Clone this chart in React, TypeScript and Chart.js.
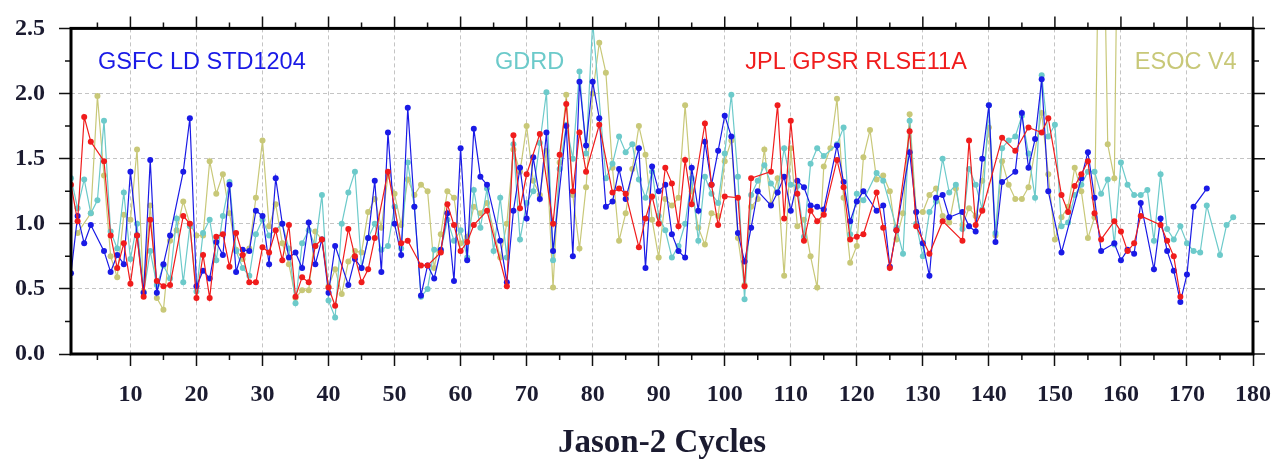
import React, { useEffect, useRef } from 'react';
import { Chart, registerables } from 'chart.js';

Chart.register(...registerables);

// Jason-2 cycle numbers (category axis)
const cycles: number[] = Array.from({ length: 177 }, (_, i) => i + 1);
const xTickValues = [10, 20, 30, 40, 50, 60, 70, 80, 90, 100, 110, 120, 130, 140, 150, 160, 170, 180];

// GSFC LD STD1204 (cycles 1..173)
const gsfc: (number | null)[] = [
  0.62, 1.06, 0.85, 0.99, null, 0.79, 0.63, 0.76, 0.69, 1.40,
  0.91, 0.47, 1.49, 0.47, 0.69, 0.91, null, 1.40, 1.81, 0.52,
  0.64, 0.58, 0.86, 0.76, 1.30, 0.63, 0.80, 0.79, 1.10, 1.06,
  0.69, 1.35, 1.00, 0.74, 0.78, 0.66, 1.01, 0.69, 0.88, 0.47,
  0.83, null, 0.53, 0.73, 0.66, 0.89, 1.33, 0.63, 1.70, 1.00,
  0.76, 1.89, 1.13, 0.45, 0.68, 0.58, 0.80, 1.08, 0.56, 1.58,
  0.72, 1.73, 1.36, 1.30, null, 0.87, 0.55, 1.10, 1.43, 1.04,
  1.51, 1.19, 1.70, 0.79, null, 1.75, 0.75, 2.09, 1.60, 2.09,
  1.81, 1.13, 1.17, 1.42, 1.19, null, 1.58, 0.66, 1.44, 1.25,
  1.30, 0.92, 0.79, 0.74, 1.43, 1.10, 1.63, 1.30, 1.56, 1.83,
  1.67, 0.93, 0.71, 0.97, 1.25, null, 1.14, 1.24, 1.36, 1.10,
  1.33, 1.28, 1.14, 1.13, 1.11, null, 1.60, 1.32, 1.02, 1.17,
  1.25, null, 1.10, 1.14, 0.67, 0.95, null, 1.55, 1.09, 0.85,
  0.60, 1.20, 1.22, 1.05, null, 1.09, 0.98, 0.94, 1.50, 1.91,
  0.86, 1.32, null, 1.40, 1.85, 1.43, 1.65, 2.11, 1.25, null,
  0.78, null, null, 1.35, 1.55, 1.20, 0.79, null, 0.85, 0.72,
  0.80, 0.77, 1.16, null, 0.65, 1.04, 0.79, 0.64, 0.40, 0.61,
  1.13, null, 1.27,
];

// GDRD (cycles 1..177)
const gdrd: (number | null)[] = [
  1.35, 1.12, 1.34, 1.08, 1.18, 1.79, 0.94, 0.81, 1.24, 0.73,
  1.00, 0.47, 0.79, 0.53, 0.68, 0.58, 1.04, 0.55, 0.98, 0.48,
  0.93, 1.03, 0.72, 1.06, 1.32, 0.79, 0.66, 0.60, 0.92, 1.03,
  0.91, null, 1.00, 0.81, 0.39, 0.85, 0.95, 0.83, 1.22, 0.41,
  0.28, 1.00, 1.24, 1.40, 0.66, 0.89, 1.00, 0.80, 0.83, 1.13,
  0.81, 1.47, 1.13, 0.44, 0.50, 0.80, 0.79, 1.03, 0.87, 0.95,
  0.74, 1.26, 0.97, 1.27, 0.79, 1.20, 0.74, 1.61, 0.88, 1.16,
  1.25, 1.62, 2.01, 0.72, 1.42, 1.76, 1.50, 2.17, 1.54, 2.55,
  null, 1.35, 1.46, 1.67, 1.55, 1.61, 1.34, 1.20, 1.40, 1.06,
  0.95, 0.74, 0.83, 1.00, 1.35, 0.87, 1.36, 1.23, 1.16, 1.54,
  1.99, 1.36, 0.42, 1.22, 1.33, 1.45, 1.31, 1.24, 1.58, 1.30,
  1.29, 0.90, 1.46, 1.58, 1.52, null, 1.61, 1.74, 0.92, 1.23,
  1.18, null, 1.39, 1.33, null, 0.97, 0.77, 1.79, 1.00, 0.75,
  1.09, 1.17, 1.50, 1.24, 1.30, 0.96, 1.42, 1.30, 1.11, 1.91,
  0.93, 1.58, 1.64, 1.67, 1.83, 1.54, 1.20, 2.14, 1.67, 1.76,
  0.98, 1.01, 1.22, 1.30, 1.40, 1.40, 1.23, 1.34, 0.84, 1.47,
  1.30, 1.22, 1.22, 1.26, 0.87, 1.38, 0.96, 0.88, 0.98, 0.85,
  0.79, 0.78, 1.14, null, 0.76, 0.99, 1.05,
];

// JPL GPSR RLSE11A (cycles 1..169)
const jpl: (number | null)[] = [
  1.30, 1.02, 1.82, 1.63, null, 1.48, 0.91, 0.66, 0.85, 0.54,
  0.91, 0.44, 1.03, 0.56, 0.52, 0.53, null, 1.06, 1.00, 0.43,
  0.76, 0.43, 0.90, 0.92, 0.67, 0.93, 0.76, 0.55, 0.55, 0.82,
  0.78, 0.95, 0.72, 0.99, 0.44, 0.59, 0.55, 0.83, 0.88, 0.51,
  0.37, null, 0.96, 0.75, 0.55, 0.65, 0.89, null, 1.40, null,
  0.85, 0.87, null, 0.68, 0.68, null, 0.78, 1.15, 0.99, 0.79,
  0.86, 0.99, null, 1.10, null, null, 0.52, 1.68, 1.12, 1.38,
  null, 1.69, null, 1.00, 1.53, 1.92, 1.25, 1.70, 1.40, null,
  1.76, null, 1.24, 1.27, 1.23, null, 0.82, 1.04, 1.21, 1.00,
  1.43, 1.31, 0.98, 1.49, 1.15, null, 1.77, 1.30, 0.99, 1.21,
  null, 1.20, 0.52, 1.35, null, null, 1.40, 1.91, 1.04, 1.79,
  1.23, 0.87, 1.10, 1.02, 1.07, null, 1.49, 1.28, 0.88, 0.90,
  0.92, null, 1.24, 0.97, 0.66, 0.95, null, 1.71, 0.98, null,
  0.77, null, 1.02, null, null, 0.87, 1.64, 0.99, 1.10, null,
  null, 1.66, null, 1.56, null, 1.74, null, 1.70, 1.81, null,
  1.22, 1.09, 1.29, 1.38, 1.48, 1.08, 0.88, null, 1.02, 0.94,
  0.79, 0.85, 1.06, null, null, 0.99, 0.87, 0.75, 0.44,
];

// ESOC V4 (cycles 1..160)
const esoc: (number | null)[] = [
  null, 0.93, null, 1.08, 1.98, 1.37, 0.75, 0.59, 1.07, 1.03,
  1.57, 0.48, 1.14, 0.43, 0.34, 0.87, 0.95, 1.17, 1.00, 0.91,
  0.91, 1.48, 1.23, 1.38, 1.08, 0.80, 0.73, 0.81, 1.20, 1.64,
  0.98, 1.15, 0.85, 0.69, 0.43, 0.49, 0.49, 0.94, 0.88, 0.52,
  0.65, 0.46, 0.71, 0.79, 0.78, 1.09, 1.19, 0.97, 1.37, 1.23,
  0.99, 1.34, 1.22, 1.30, 1.25, 0.66, 0.92, 1.25, 1.20, 0.85,
  0.90, 1.13, 1.08, 1.16, null, 0.74, 1.00, 1.57, 1.40, 1.75,
  1.33, 1.22, 1.56, 0.51, 1.47, 1.99, 1.22, 0.81, 1.28, 2.00,
  2.39, 2.16, 1.43, 0.87, 1.08, 1.42, 1.75, 1.53, 1.03, 0.74,
  1.19, 1.14, 1.20, 1.91, 1.25, 0.97, 0.84, 1.08, 1.06, 1.48,
  1.64, 0.89, 0.53, 1.13, 1.19, 1.57, 1.15, 1.35, 0.60, 1.58,
  0.98, 1.03, 0.75, 0.51, 1.44, 1.58, 1.96, 1.20, 0.70, 0.83,
  1.51, 1.72, 1.34, 1.37, 1.25, 0.88, 1.08, 1.84, 1.09, 1.09,
  1.22, 1.27, 1.06, 1.01, 1.27, 0.99, 1.12, 1.06, 1.33, 1.74,
  0.91, 1.48, 1.30, 1.19, 1.19, 1.28, null, 1.85, 1.38, 0.88,
  1.05, 1.13, 1.43, 1.25, 0.89, 1.05, 4.5, 1.61, 1.35, 5.5,
];

const BLUE = '#1a1ae6';
const RED = '#f01c1c';
const CYAN = '#6ccaca';
const OLIVE = '#c8c878';
const TEXT = '#1b1b30';

const seriesNames = ['JPL GPSR RLSE11A', 'GSFC LD STD1204', 'GDRD', 'ESOC V4'];

const toPoints = (arr: (number | null)[]) => arr.map((v, i) => ({ x: cycles[i], y: v }));

const framePlugin = {
  id: 'frameAndLabels',
  afterDraw(chart: any) {
    const { ctx, chartArea: a, scales } = chart;
    const xs = scales.x;
    const ys = scales.y;
    ctx.save();
    ctx.strokeStyle = '#111';
    ctx.lineWidth = 1.5;
    ctx.beginPath();
    for (let v = 5; v <= 180; v += 5) {
      const px = xs.getPixelForValue(v);
      const major = v % 10 === 0;
      const len = major ? 12 : 6;
      ctx.moveTo(px, a.top);
      ctx.lineTo(px, a.top - len);
      if (!major) {
        ctx.moveTo(px, a.bottom);
        ctx.lineTo(px, a.bottom + len);
      }
    }
    for (let k = 0; k <= 10; k++) {
      const py = ys.getPixelForValue(k * 0.25);
      const major = k % 2 === 0;
      const len = major ? 12 : 6;
      ctx.moveTo(a.right, py);
      ctx.lineTo(a.right + len, py);
      if (!major) {
        ctx.moveTo(a.left, py);
        ctx.lineTo(a.left - len, py);
      }
    }
    ctx.stroke();
    ctx.lineWidth = 3;
    ctx.strokeStyle = '#000';
    ctx.strokeRect(a.left, a.top, a.right - a.left, a.bottom - a.top);

    const labels = [
      { text: 'GSFC LD STD1204', color: BLUE, c: 5.1 },
      { text: 'GDRD', color: CYAN, c: 65.2 },
      { text: 'JPL GPSR RLSE11A', color: RED, c: 103.1 },
      { text: 'ESOC V4', color: OLIVE, c: 162.1 },
    ];
    ctx.font = '23.5px "Liberation Sans", Arial, sans-serif';
    ctx.textBaseline = 'middle';
    ctx.textAlign = 'left';
    const ly = ys.getPixelForValue(2.24);
    labels.forEach((l) => {
      ctx.fillStyle = l.color;
      ctx.fillText(l.text, xs.getPixelForValue(l.c), ly);
    });
    ctx.restore();
  },
};

export default function App() {
  const ref = useRef<HTMLCanvasElement | null>(null);
  useEffect(() => {
    if (!ref.current) return;
    const common = {
      borderWidth: 1.2,
      pointRadius: 3,
      pointBorderWidth: 0,
      spanGaps: true,
      tension: 0,
    };
    const tickFont = { family: '"Liberation Serif", serif', size: 24, weight: 'bold' };
    const chart = new Chart(ref.current, {
      type: 'line',
      data: {
        datasets: [
          { ...common, label: seriesNames[0], data: toPoints(jpl), borderColor: RED, backgroundColor: RED },
          { ...common, label: seriesNames[1], data: toPoints(gsfc), borderColor: BLUE, backgroundColor: BLUE },
          { ...common, label: seriesNames[2], data: toPoints(gdrd), borderColor: CYAN, backgroundColor: CYAN },
          { ...common, label: seriesNames[3], data: toPoints(esoc), borderColor: OLIVE, backgroundColor: OLIVE },
        ],
      },
      options: {
        animation: false,
        responsive: false,
        layout: { padding: { top: 17, right: 34, left: 0, bottom: 0 } },
        plugins: { legend: { display: false }, tooltip: { enabled: false } },
        scales: {
          x: {
            type: 'linear',
            min: 1,
            max: 180,
            afterBuildTicks: (s: any) => {
              s.ticks = xTickValues.map((v) => ({ value: v }));
            },
            afterFit: (s: any) => {
              s.height = 107;
            },
            ticks: {
              autoSkip: false,
              maxRotation: 0,
              padding: 14,
              color: TEXT,
              font: tickFont,
            },
            grid: { color: '#c4c4c4', lineWidth: 1, tickLength: 12, tickColor: '#111', tickWidth: 1.5 },
            border: { display: false, dash: [4, 3] },
            title: {
              display: true,
              text: 'Jason-2 Cycles',
              color: TEXT,
              font: { family: '"Liberation Serif", serif', size: 33, weight: 'bold', lineHeight: 1 },
              padding: { top: 0, bottom: 1.5 },
            },
          },
          y: {
            min: 0,
            max: 2.5,
            afterFit: (s: any) => {
              s.width = 71;
            },
            ticks: {
              stepSize: 0.5,
              padding: 14,
              color: TEXT,
              font: tickFont,
              callback: (v: any) => Number(v).toFixed(1),
            },
            grid: { color: '#c4c4c4', lineWidth: 1, tickLength: 12, tickColor: '#111', tickWidth: 1.5 },
            border: { display: false, dash: [4, 3] },
          },
        },
      },
      plugins: [framePlugin],
    } as any);
    return () => chart.destroy();
  }, []);

  return (
    <div style={{ position: 'fixed', left: 0, top: 0, width: 1287, height: 461, background: '#fff' }}>
      <canvas ref={ref} width={1287} height={461} />
    </div>
  );
}
